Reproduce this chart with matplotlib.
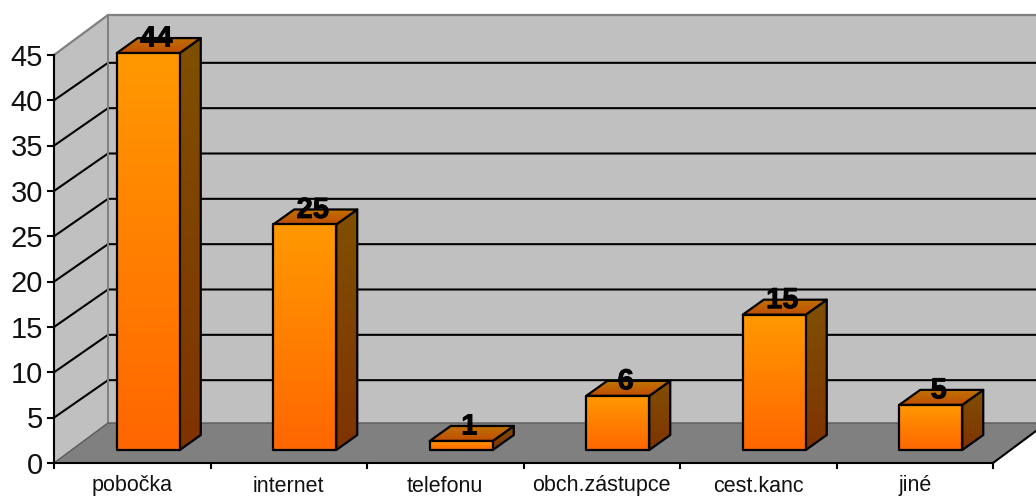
import numpy as np
import matplotlib
matplotlib.use('Agg')
import matplotlib.pyplot as plt
import matplotlib.patheffects as pe
from matplotlib.patches import Polygon

plt.rcParams['font.family'] = ['Liberation Sans', 'DejaVu Sans']

categories = ['pobočka', 'internet', 'telefonu', 'obch.zástupce', 'cest.kanc', 'jiné']
values = [44, 25, 1, 6, 15, 5]
y_ticks = [0, 5, 10, 15, 20, 25, 30, 35, 40, 45]

W, H = 1036, 497
X0, Y0 = 54, 463        # where the front axes meet, in pixels
CAT_W = 156.5           # pixels per category
UNIT_H = 408 / 45       # pixels per value unit

# oblique offsets, converted to data units
WALL_DX, WALL_DY = 54 / CAT_W, 40 / UNIT_H
GRID_DY = 37.5 / UNIT_H
BAR_DX, BAR_DY = 21 / CAT_W, 15 / UNIT_H
BAR_SHIFT_X, BAR_BASE = 16 / CAT_W, 13 / UNIT_H
BAR_W = 63 / CAT_W
BAR_SCALE = 0.995       # bars stand a little further back than the axis

fig = plt.figure(figsize=(W / 100, H / 100), dpi=100)
ax = fig.add_axes([0, 0, 1, 1])
ax.set_xlim(-X0 / CAT_W, (W - X0) / CAT_W)
ax.set_ylim(-(H - Y0) / UNIT_H, Y0 / UNIT_H)
ax.axis('off')

n = len(categories)
top = y_ticks[-1]
back_right = n + WALL_DX

# walls and floor
ax.add_patch(Polygon([(WALL_DX, WALL_DY), (back_right, WALL_DY),
                      (back_right, top + WALL_DY), (WALL_DX, top + WALL_DY)],
                     fc='#c0c0c0', ec='none', zorder=1))
ax.add_patch(Polygon([(0, 0), (WALL_DX, WALL_DY), (WALL_DX, top + WALL_DY), (0, top)],
                     fc='#c0c0c0', ec='none', zorder=1))
ax.add_patch(Polygon([(0, 0), (WALL_DX, WALL_DY), (back_right, WALL_DY), (n, 0)],
                     fc='#808080', ec='none', zorder=1))

# grid lines, running round the side wall and along the back
for t in y_ticks[1:-1]:
    ax.plot([0, WALL_DX, back_right], [t, t + GRID_DY, t + GRID_DY],
            color='black', lw=1.5, zorder=2, solid_joinstyle='miter')

# wall outlines
ax.plot([0, WALL_DX, back_right], [top, top + WALL_DY, top + WALL_DY],
        color='#808080', lw=1.6, zorder=2)
ax.plot([WALL_DX, WALL_DX], [WALL_DY, top + WALL_DY], color='#808080', lw=1.4, zorder=2)
ax.plot([0, WALL_DX, back_right], [0, WALL_DY, WALL_DY], color='#5a5a5a', lw=1.0, zorder=2)

# front axes
ax.plot([0, 0], [0, top], color='black', lw=1.5, zorder=3)
ax.plot([0, n, n + 43 / CAT_W], [0, 0, 32 / UNIT_H], color='black', lw=1.5, zorder=3)
for t in y_ticks:
    ax.plot([-6 / CAT_W, 0], [t, t], color='black', lw=1.5, zorder=3)
    ax.text(-11 / CAT_W, t - 2.5 / UNIT_H, str(t), ha='right', va='center',
            fontsize=21, color='#111111')
for i in range(n + 1):
    ax.plot([i, i], [0, -5 / UNIT_H], color='black', lw=1.5, zorder=3)
for i, name in enumerate(categories):
    ax.text(i + 0.5, -28.5 / UNIT_H, name, ha='center', va='baseline',
            fontsize=15.5, color='#111111')


def shaded(poly, extent, colors, z):
    # vertical two-colour gradient clipped to a face of the bar
    c0 = np.array(matplotlib.colors.to_rgb(colors[0]))
    c1 = np.array(matplotlib.colors.to_rgb(colors[1]))
    t = np.linspace(0, 1, 128)[:, None, None]
    img = c0[None, None, :] * (1 - t) + c1[None, None, :] * t
    im = ax.imshow(img, extent=extent, origin='upper', aspect='auto',
                   interpolation='bilinear', zorder=z)
    outline = Polygon(poly, fc='none', ec='black', lw=1.6, zorder=z + 0.1,
                      joinstyle='round')
    ax.add_patch(outline)
    im.set_clip_path(outline)


for i, v in enumerate(values):
    x0 = i + 0.5 - BAR_W / 2 + BAR_SHIFT_X
    x1 = x0 + BAR_W
    y0 = BAR_BASE
    y1 = BAR_BASE + v * BAR_SCALE
    z = 5 + i
    # side face, top face, then the front
    shaded([(x1, y0), (x1 + BAR_DX, y0 + BAR_DY), (x1 + BAR_DX, y1 + BAR_DY), (x1, y1)],
           (x1, x1 + BAR_DX, y0, y1 + BAR_DY), ('#805000', '#7f3300'), z)
    shaded([(x0, y1), (x0 + BAR_DX, y1 + BAR_DY), (x1 + BAR_DX, y1 + BAR_DY), (x1, y1)],
           (x0, x1 + BAR_DX, y1, y1 + BAR_DY), ('#c07300', '#bf4d00'), z + 0.2)
    shaded([(x0, y0), (x1, y0), (x1, y1), (x0, y1)],
           (x0, x1, y0, y1), ('#ff9900', '#ff6600'), z + 0.4)
    ax.text((x0 + x1) / 2 + 8 / CAT_W, y1 + 14.5 / UNIT_H, str(v), ha='center', va='center',
            fontsize=21, fontweight='bold', color='black', zorder=20,
            path_effects=[pe.withStroke(linewidth=0.6, foreground='black')])

ax.set_xlim(-X0 / CAT_W, (W - X0) / CAT_W)
ax.set_ylim(-(H - Y0) / UNIT_H, Y0 / UNIT_H)
fig.savefig('out.png', dpi=100, facecolor='white')
